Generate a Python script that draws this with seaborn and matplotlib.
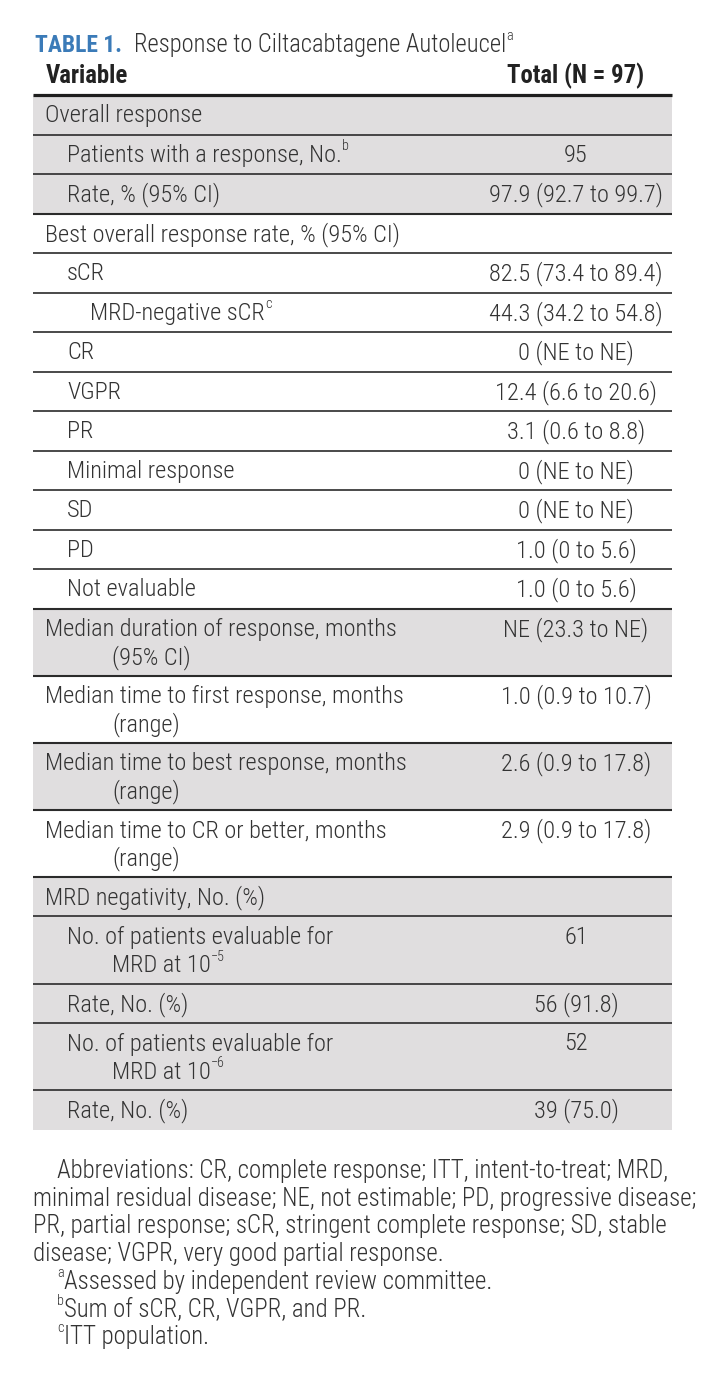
import numpy as np
import pandas as pd
import seaborn as sns
import matplotlib
matplotlib.use("Agg")
import matplotlib.pyplot as plt
from matplotlib import font_manager

# ---- table content ----
title_tag = "TABLE 1."
title_text = "Response to Ciltacabtagene Autoleucel"
title_sup = "a"
col_heads = ["Variable", "Total (N = 97)"]

labels = [
    "Overall response",
    "Patients with a response, No.",
    "Rate, % (95% CI)",
    "Best overall response rate, % (95% CI)",
    "sCR",
    "MRD-negative sCR",
    "CR",
    "VGPR",
    "PR",
    "Minimal response",
    "SD",
    "PD",
    "Not evaluable",
    "Median duration of response, months\n(95% CI)",
    "Median time to first response, months\n(range)",
    "Median time to best response, months\n(range)",
    "Median time to CR or better, months\n(range)",
    "MRD negativity, No. (%)",
    "No. of patients evaluable for\nMRD at 10",
    "Rate, No. (%)",
    "No. of patients evaluable for\nMRD at 10",
    "Rate, No. (%)",
]
label_sups = ["", "b", "", "", "", "c", "", "", "", "", "", "", "",
              "", "", "", "", "", "\u22125", "", "\u22126", ""]
values = ["", "95", "97.9 (92.7 to 99.7)", "", "82.5 (73.4 to 89.4)",
          "44.3 (34.2 to 54.8)", "0 (NE to NE)", "12.4 (6.6 to 20.6)",
          "3.1 (0.6 to 8.8)", "0 (NE to NE)", "0 (NE to NE)", "1.0 (0 to 5.6)",
          "1.0 (0 to 5.6)", "NE (23.3 to NE)", "1.0 (0.9 to 10.7)",
          "2.6 (0.9 to 17.8)", "2.9 (0.9 to 17.8)", "", "61", "56 (91.8)",
          "52", "39 (75.0)"]
level = [0, 1, 1, 0, 1, 2, 1, 1, 1, 1, 1, 1, 1, 0, 0, 0, 0, 0, 1, 1, 1, 1]
group = [0, 0, 0, 1, 1, 1, 1, 1, 1, 1, 1, 1, 1, 2, 3, 4, 5, 6, 6, 6, 6, 6]

abbrev_lines = [
    "Abbreviations: CR, complete response; ITT, intent-to-treat; MRD,",
    "minimal residual disease; NE, not estimable; PD, progressive disease;",
    "PR, partial response; sCR, stringent complete response; SD, stable",
    "disease; VGPR, very good partial response.",
]
notes = [("a", "Assessed by independent review committee."),
         ("b", "Sum of sCR, CR, VGPR, and PR."),
         ("c", "ITT population.")]

df = pd.DataFrame({"label": labels, "sup": label_sups, "value": values,
                   "level": level, "group": group})
df["nlines"] = df["label"].str.count("\n") + 1

# ---- style ----
sns.set_theme(style="white")
names = {f.name for f in font_manager.fontManager.ttflist}
FONT = "DejaVu Sans"
for cand in ["Roboto Condensed", "Liberation Sans Narrow", "Open Sans Condensed",
             "Roboto", "Liberation Sans"]:
    if cand in names:
        FONT = cand
        break
plt.rcParams["font.family"] = [FONT, "DejaVu Sans"]

TXT = "#333333"
BLUE = "#3b7bb8"
SHADE = "#e0dedf"
LINE = "#2b2b2b"
BODY_W = "light"

W, H = 708, 1387
fig = plt.figure(figsize=(W / 100, H / 100), dpi=100)
ax = fig.add_axes([0, 0, 1, 1])
ax.set_xlim(0, W)
ax.set_ylim(H, 0)
ax.axis("off")
renderer = fig.canvas.get_renderer()


def width_of(s, size, weight):
    t = ax.text(0, 0, s, fontsize=size, fontweight=weight)
    w = t.get_window_extent(renderer).width
    t.remove()
    return w


def fit(s, target, weight=BODY_W):
    return 10 * target / width_of(s, 10, weight)


def put(x, y, parts, size, ha="left", color=TXT, weight=BODY_W):
    arts = []
    for s, sup in parts:
        fs = size * 0.58 if sup else size
        dy = -size * 100 / 72 * 0.36 if sup else 0
        t = ax.text(0, y + dy, s, fontsize=fs, color=color, fontweight=weight,
                    ha="left", va="center")
        arts.append(t)
    ws = [a.get_window_extent(renderer).width for a in arts]
    total = sum(ws)
    x0 = x - total / 2 if ha == "center" else (x - total if ha == "right" else x)
    for a, w in zip(arts, ws):
        a.set_x(x0)
        x0 += w


body_fs = fit("Median time to best response, months", 364)
title_fs = fit(title_text, 373)
tag_fs = fit(title_tag, 87, "bold")
head_fs = fit(col_heads[1], 137, "bold")
note_fs = fit(abbrev_lines[0], 610)

L, R = 33, 672
VAL_X = 576
indent_x = [45, 67, 90]
cont_x = 112

# title and header
put(35, 45, [(title_tag, False)], tag_fs, color=BLUE, weight="bold")
put(134, 45, [(title_text, False), (title_sup, True)], title_fs)
put(46, 76, [(col_heads[0], False)], head_fs, color="#222222", weight="bold")
put(VAL_X, 76, [(col_heads[1], False)], head_fs, ha="center", color="#222222",
    weight="bold")

# rows
heights = np.where(df["nlines"] == 1, 39.5, 67.1)
tops = 95 + np.concatenate([[0], np.cumsum(heights)[:-1]])
shaded = df["group"] % 2 == 0
ax.barh(tops[shaded], R - L, left=L, height=heights[shaded], align="edge",
        color=SHADE, linewidth=0, zorder=0)

for i, row in df.iterrows():
    top, h = tops[i], heights[i]
    lines = row["label"].split("\n")
    if len(lines) == 1:
        yc = [top + h / 2 + 1]
        xs = [indent_x[row["level"]]]
    else:
        yc = [top + 21, top + 49]
        xs = [indent_x[row["level"]], cont_x]
    for k, (ln, yy, xx) in enumerate(zip(lines, yc, xs)):
        parts = [(ln, False)]
        if k == len(lines) - 1 and row["sup"]:
            parts.append((row["sup"], True))
        put(xx, yy, parts, body_fs)
    if row["value"]:
        put(VAL_X, yc[0], [(row["value"], False)], body_fs, ha="center")
    if i > 0:
        lw = 1.5 if row["group"] != df["group"][i - 1] else 1.2
        ax.hlines(top, L, R, color=LINE, lw=lw, zorder=2)

ax.hlines(95, L, R, color="#1e1e1e", lw=2.3, zorder=3)

# footnotes
fy = 1171
put(57, fy, [(abbrev_lines[0], False)], note_fs)
for k, ln in enumerate(abbrev_lines[1:], start=1):
    put(L, fy + 27.7 * k, [(ln, False)], note_fs)
for k, (mark, txt) in enumerate(notes):
    put(57, fy + 27.7 * (4 + k), [(mark, True), (txt, False)], note_fs)

fig.savefig("out.png", dpi=100)
